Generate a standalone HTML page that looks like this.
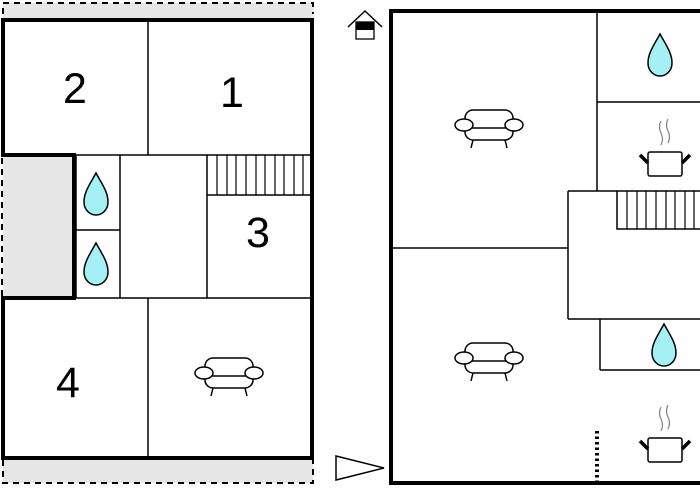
<!DOCTYPE html>
<html><head><style>html,body{margin:0;padding:0;background:#fff}svg{display:block}</style></head><body>
<svg width="700" height="500" viewBox="0 0 700 500" xmlns="http://www.w3.org/2000/svg">
<defs>
<g id="drop"><path d="M0,-21 C6,-10 12,-2 12,8 C12,16 6,21 0,21 C-6,21 -12,16 -12,8 C-12,-2 -6,-10 0,-21Z" fill="#a5f0f5" stroke="#000" stroke-width="1.5"/></g>
<g id="sofa" fill="#fff" stroke="#000" stroke-width="1.5">
<rect x="-24" y="-17" width="48" height="30" rx="8"/>
<line x1="-20" y1="1" x2="20" y2="1"/>
<ellipse cx="-25" cy="-2" rx="9" ry="6"/><ellipse cx="25" cy="-2" rx="9" ry="6"/>
<line x1="-16" y1="13" x2="-18" y2="21"/><line x1="16" y1="13" x2="18" y2="21"/>
</g>
<g id="pot">
<path d="M-4,-36 q-3,6 0,12 q3,6 0,12 M3,-38 q-3,6 0,12 q3,6 0,12" fill="none" stroke="#888" stroke-width="1.3"/>
<rect x="-17" y="-5" width="34" height="24" rx="2" fill="#fff" stroke="#000" stroke-width="1.5"/>
<line x1="-17" y1="6" x2="-25" y2="-2" stroke="#000" stroke-width="3.5"/>
<line x1="17" y1="6" x2="25" y2="-2" stroke="#000" stroke-width="3.5"/>
</g>
</defs>
<rect x="3" y="3" width="310" height="17" fill="#e6e6e6"/>
<rect x="3" y="458" width="310" height="25" fill="#e6e6e6"/>
<rect x="3" y="155" width="71" height="143" fill="#e6e6e6"/>
<path d="M3,14 V3 H313 V14" fill="none" stroke="#000" stroke-width="2" stroke-dasharray="6,5"/>
<path d="M3,460 V483 H313 V460" fill="none" stroke="#000" stroke-width="2" stroke-dasharray="6,5"/>
<line x1="2" y1="158" x2="2" y2="296" stroke="#000" stroke-width="2" stroke-dasharray="6,5"/>
<g stroke="#000" stroke-width="1.5" fill="none">
<line x1="148" y1="20" x2="148" y2="155"/>
<line x1="74" y1="155" x2="312" y2="155"/>
<line x1="76" y1="230" x2="120" y2="230"/>
<line x1="76" y1="155" x2="76" y2="298"/>
<line x1="120" y1="155" x2="120" y2="298"/>
<line x1="207" y1="155" x2="207" y2="298"/>
<line x1="207" y1="195" x2="312" y2="195"/>
<line x1="74" y1="298" x2="312" y2="298"/>
<line x1="148" y1="298" x2="148" y2="458"/>
<path d="M217,155V195M227,155V195M236,155V195M246,155V195M256,155V195M265,155V195M275,155V195M284,155V195M294,155V195M303,155V195" stroke-width="1.2"/>
</g>
<path d="M3,20 H312 V458 H3 V298 H74 V155 H3 Z" fill="none" stroke="#000" stroke-width="4"/>
<g font-family="Liberation Sans, sans-serif" font-size="43" text-anchor="middle" fill="#000">
<text x="75" y="103">2</text><text x="232" y="107">1</text><text x="258" y="247">3</text><text x="68" y="397">4</text>
</g>
<use href="#drop" x="96" y="194"/>
<use href="#drop" x="96" y="264"/>
<use href="#sofa" x="229" y="375"/>
<g stroke="#000" stroke-width="1.5" fill="none">
<line x1="597" y1="11" x2="597" y2="191"/>
<line x1="597" y1="102" x2="700" y2="102"/>
<line x1="391" y1="248" x2="568" y2="248"/>
<line x1="568" y1="191" x2="568" y2="319"/>
<line x1="568" y1="191" x2="700" y2="191"/>
<line x1="568" y1="319" x2="700" y2="319"/>
<line x1="600" y1="319" x2="600" y2="370"/>
<line x1="600" y1="370" x2="700" y2="370"/>
<path d="M617,191V229H700" />
<path d="M627,191V229M637,191V229M646,191V229M656,191V229M666,191V229M675,191V229M685,191V229M694,191V229" stroke-width="1.2"/>
</g>
<line x1="597" y1="431" x2="597" y2="482" stroke="#000" stroke-width="4" stroke-dasharray="2.5,3"/>
<path d="M702,11 H391 V483 H702" fill="none" stroke="#000" stroke-width="4"/>
<use href="#drop" x="660" y="55"/>
<use href="#drop" x="664" y="345"/>
<use href="#pot" x="665" y="157"/>
<use href="#pot" x="665" y="443"/>
<use href="#sofa" x="489" y="127"/>
<use href="#sofa" x="489" y="360"/>
<path d="M348,27 L365,11 L382,27" fill="none" stroke="#000" stroke-width="1.5"/>
<rect x="356" y="22" width="18" height="17" fill="#fff" stroke="#000" stroke-width="1.3"/>
<rect x="356" y="22" width="18" height="8" fill="#000"/>
<path d="M336,456 L384,468 L336,480 Z" fill="#fff" stroke="#000" stroke-width="1.5"/>
</svg>
</body></html>
